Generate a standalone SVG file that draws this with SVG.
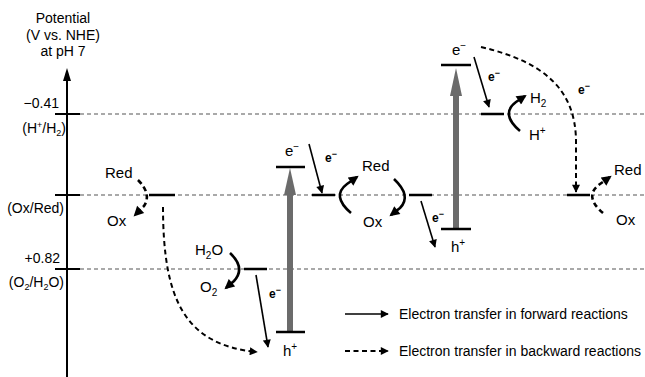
<svg xmlns="http://www.w3.org/2000/svg" width="645" height="377" viewBox="0 0 645 377">
<style>
text{font-family:"Liberation Sans",Arial,sans-serif;fill:#000}
.ax{font-size:14px}
.lb{font-size:15px}
.sm{font-size:12px;font-weight:bold}
.lg{font-size:14px}
.dash{stroke:#555;stroke-width:1.1;stroke-dasharray:4 3;fill:none}
.lvl{stroke:#000;stroke-width:2.5}
.fw{stroke:#000;stroke-width:1.6;fill:none;marker-end:url(#ah)}
.bw{stroke:#000;stroke-width:2;fill:none;stroke-dasharray:5 3.5;marker-end:url(#ah)}
.cv{stroke:#000;stroke-width:2.6;fill:none;marker-end:url(#ahL)}
.cvd{stroke:#000;stroke-width:2.6;fill:none;stroke-dasharray:5 3.5;marker-end:url(#ahL)}
.gs{stroke:#6b6b6b;stroke-width:6}
.gh{fill:#6b6b6b}
</style>
<defs>
<marker id="ah" viewBox="0 0 10 10" refX="9" refY="5" markerWidth="10" markerHeight="8" markerUnits="userSpaceOnUse" orient="auto">
<path d="M0,0 L10,5 L0,10 z" fill="#000"/>
</marker>
<marker id="ahL" viewBox="0 0 10 10" refX="8" refY="5" markerWidth="11" markerHeight="10" markerUnits="userSpaceOnUse" orient="auto">
<path d="M0,0 L10,5 L0,10 z" fill="#000"/>
</marker>
</defs>
<g id="axis">
<text class="ax" x="63" y="23" text-anchor="middle">Potential</text>
<text class="ax" x="63" y="40" text-anchor="middle">(V vs. NHE)</text>
<text class="ax" x="63" y="56" text-anchor="middle">at pH 7</text>
<line x1="67" y1="80" x2="67" y2="377" stroke="#000" stroke-width="2"/>
<path d="M67,68 L63,81 L71,81 z" fill="#000"/>
<line x1="55" y1="114" x2="80" y2="114" stroke="#000" stroke-width="2"/>
<line x1="55" y1="195" x2="80" y2="195" stroke="#000" stroke-width="2"/>
<line x1="55" y1="269" x2="80" y2="269" stroke="#000" stroke-width="2"/>
<text class="ax" x="59" y="108" text-anchor="end">−0.41</text>
<text class="ax" x="66" y="133" text-anchor="end">(H<tspan font-size="9" dy="-5">+</tspan><tspan dy="5">/H</tspan><tspan font-size="9" dy="3">2</tspan><tspan dy="-3">)</tspan></text>
<text class="ax" x="64" y="213" text-anchor="end">(Ox/Red)</text>
<text class="ax" x="60" y="263" text-anchor="end">+0.82</text>
<text class="ax" x="64" y="287" text-anchor="end">(O<tspan font-size="9" dy="3">2</tspan><tspan dy="-3">/H</tspan><tspan font-size="9" dy="3">2</tspan><tspan dy="-3">O)</tspan></text>
</g>
<g id="levels">
<line class="dash" x1="80" y1="114" x2="645" y2="114"/>
<line class="dash" x1="80" y1="195" x2="645" y2="195"/>
<line class="dash" x1="80" y1="269" x2="645" y2="269"/>
</g>
<g id="node-left-redox">
<line class="lvl" x1="149" y1="195" x2="175" y2="195"/>
<text class="lb" x="105" y="178">Red</text>
<text class="lb" x="107" y="226">Ox</text>
</g>
<g id="node-water">
<line class="lvl" x1="244" y1="269" x2="267" y2="269"/>
<text class="lb" x="195" y="255">H<tspan font-size="10" dy="4">2</tspan><tspan dy="-4">O</tspan></text>
<text class="lb" x="200" y="292">O<tspan font-size="10" dy="4">2</tspan></text>
</g>
<g id="node-ps1">
<line class="gs" x1="290" y1="332" x2="290" y2="192"/>
<path class="gh" d="M290,168 L284,195 L296,195 z"/>
<line class="lvl" x1="276" y1="332" x2="305" y2="332"/>
<line class="lvl" x1="276" y1="167" x2="305" y2="167"/>
<text class="lb" x="285" y="156">e<tspan font-size="10" dy="-6">−</tspan></text>
<text class="lb" x="283" y="356">h<tspan font-size="10" dy="-6">+</tspan></text>
</g>
<g id="node-mid-redox">
<line class="lvl" x1="312" y1="195" x2="335" y2="195"/>
<line class="lvl" x1="409" y1="195" x2="432" y2="195"/>
<text class="lb" x="362" y="171">Red</text>
<text class="lb" x="363" y="227">Ox</text>
</g>
<g id="node-ps2">
<line class="gs" x1="456" y1="229" x2="456" y2="94"/>
<path class="gh" d="M456,68 L450,96 L462,96 z"/>
<line class="lvl" x1="441" y1="229" x2="471" y2="229"/>
<line class="lvl" x1="441" y1="65" x2="471" y2="65"/>
<text class="lb" x="452" y="55">e<tspan font-size="10" dy="-6">−</tspan></text>
<text class="lb" x="451" y="252">h<tspan font-size="10" dy="-6">+</tspan></text>
</g>
<g id="node-hydrogen">
<line class="lvl" x1="481" y1="114" x2="504" y2="114"/>
<text class="lb" x="530" y="103">H<tspan font-size="10" dy="4">2</tspan></text>
<text class="lb" x="529" y="140">H<tspan font-size="10" dy="-6">+</tspan></text>
</g>
<g id="node-right-redox">
<line class="lvl" x1="567" y1="195" x2="590" y2="195"/>
<text class="lb" x="614" y="175">Red</text>
<text class="lb" x="616" y="225">Ox</text>
</g>
<g id="connectors">
<path class="cvd" d="M138,180 Q152,194 144,206 L135,215"/>
<path class="bw" d="M163,207 C163,300 185,345 257,352"/>
<path class="cv" d="M230,253 Q246,268 234,281 L226,288"/>
<path class="fw" d="M256,275 L268,347"/>
<path class="fw" d="M309,144 L322,193"/>
<path class="cv" d="M351,213 Q331,196 347,184 L357,177"/>
<path class="cv" d="M394,179 Q412,196 400,208 L391,215"/>
<path class="fw" d="M421,201 L435,247"/>
<path class="fw" d="M474,57 L489,107"/>
<path class="cv" d="M520,131 Q500,114 516,102 L525,96"/>
<path class="bw" d="M481,47 C545,62 575,90 576,140 L576,192"/>
<path class="cvd" d="M603,213 Q583,196 600,184 L610,177"/>
<text class="sm" x="269" y="298">e<tspan font-size="9" dy="-5">−</tspan></text>
<text class="sm" x="325" y="162">e<tspan font-size="9" dy="-5">−</tspan></text>
<text class="sm" x="432" y="222">e<tspan font-size="9" dy="-5">−</tspan></text>
<text class="sm" x="488" y="81">e<tspan font-size="9" dy="-5">−</tspan></text>
<text class="sm" x="578" y="94">e<tspan font-size="9" dy="-5">−</tspan></text>
</g>
<g id="legend">
<path class="fw" d="M345,314 L388,314"/>
<path class="bw" d="M345,351 L388,351"/>
<text class="lg" x="399" y="319">Electron transfer in forward reactions</text>
<text class="lg" x="399" y="356">Electron transfer in backward reactions</text>
</g>
</svg>
